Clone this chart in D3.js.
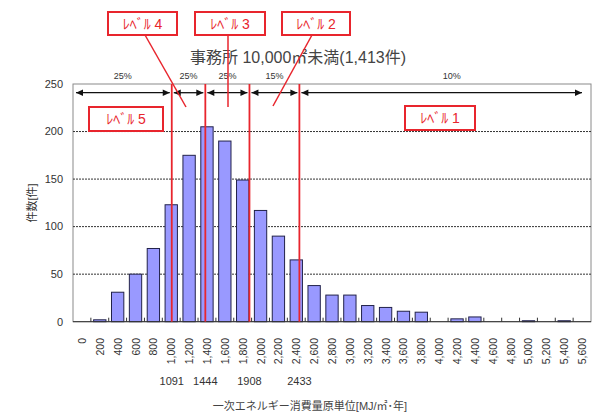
<!DOCTYPE html>
<html>
<head>
<meta charset="utf-8">
<script src="https://cdn.jsdelivr.net/npm/d3@7"></script>
<style>
  body { margin: 0; background: #fff; }
  text { font-family: "Liberation Sans", "Noto Sans CJK JP", sans-serif; }
</style>
</head>
<body>
<script>
// categories (bin lower bounds) and counts
const bins = [0, 200, 400, 600, 800, 1000, 1200, 1400, 1600, 1800, 2000, 2200, 2400, 2600,
  2800, 3000, 3200, 3400, 3600, 3800, 4000, 4200, 4400, 4600, 4800, 5000, 5200, 5400, 5600];
const counts = [0, 2, 31, 50, 77, 123, 175, 205, 190, 149, 117, 90, 65, 38,
  28, 28, 17, 15, 11, 10, 0, 3, 5, 0, 0, 1, 0, 1, 0];
const yTicks = [0, 50, 100, 150, 200, 250];
const thresholds = [1091, 1444, 1908, 2433];
const shares = ['25%', '25%', '25%', '15%', '10%'];
const levels = ['ﾚﾍﾞﾙ 5', 'ﾚﾍﾞﾙ 4', 'ﾚﾍﾞﾙ 3', 'ﾚﾍﾞﾙ 2', 'ﾚﾍﾞﾙ 1'];

const width = 597, height = 414;
const plot = { left: 73, right: 591, top: 84, bottom: 321.7 };
const red = '#e8252d';

const svg = d3.select('body').append('svg')
  .attr('width', width)
  .attr('height', height);

const x = d3.scaleBand()
  .domain(bins)
  .range([plot.left, plot.right])
  .paddingInner(0.31)
  .paddingOuter(0.155);

const y = d3.scaleLinear()
  .domain([0, 250])
  .range([plot.bottom, plot.top]);

// value -> x for the hand-placed threshold lines
const xv = d3.scaleLinear()
  .domain([0, 5800])
  .range([68, 619.6]);

// frame
svg.append('rect')
  .attr('x', plot.left).attr('y', plot.top)
  .attr('width', plot.right - plot.left).attr('height', plot.bottom - plot.top)
  .attr('fill', 'none').attr('stroke', '#8a8a8a').attr('stroke-width', 1);

// dotted gridlines
svg.append('g').selectAll('line')
  .data(yTicks.filter(d => d > 0 && d < 250))
  .enter().append('line')
  .attr('x1', plot.left).attr('x2', plot.right)
  .attr('y1', d => y(d)).attr('y2', d => y(d))
  .attr('stroke', '#333').attr('stroke-dasharray', '2,1').attr('stroke-width', 1);

// y tick labels
svg.append('g').selectAll('text')
  .data(yTicks)
  .enter().append('text')
  .attr('x', 63).attr('y', d => y(d)).attr('dy', '0.35em')
  .attr('text-anchor', 'end')
  .attr('font-size', 11).attr('fill', '#333')
  .text(d => d);

svg.append('text')
  .attr('transform', 'translate(36,203) rotate(-90)')
  .attr('text-anchor', 'middle')
  .attr('font-size', 11).attr('fill', '#333')
  .text('件数[件]');

// bars
svg.append('g').selectAll('rect')
  .data(bins.map((b, i) => ({ b, v: counts[i] })).filter(d => d.v > 0))
  .enter().append('rect')
  .attr('x', d => x(d.b))
  .attr('y', d => y(d.v))
  .attr('width', x.bandwidth())
  .attr('height', d => y(0) - y(d.v))
  .attr('fill', '#9999ff')
  .attr('stroke', '#22224a').attr('stroke-width', 1);

// x axis line and inner ticks at bin boundaries
svg.append('line')
  .attr('x1', plot.left).attr('x2', plot.right)
  .attr('y1', plot.bottom).attr('y2', plot.bottom)
  .attr('stroke', '#333');
svg.append('g').selectAll('line')
  .data(d3.range(1, bins.length))
  .enter().append('line')
  .attr('x1', i => plot.left + i * x.step()).attr('x2', i => plot.left + i * x.step())
  .attr('y1', plot.bottom).attr('y2', plot.bottom - 4)
  .attr('stroke', '#333');

// x tick labels, rotated
svg.append('g').selectAll('text')
  .data(bins)
  .enter().append('text')
  .attr('transform', d => `translate(${x(d) + x.bandwidth() / 2 + 4},338) rotate(-90)`)
  .attr('text-anchor', 'end')
  .attr('font-size', 10.5).attr('fill', '#333')
  .text(d => d3.format(',')(d));

// threshold values under axis
svg.append('g').selectAll('text')
  .data(thresholds)
  .enter().append('text')
  .attr('x', d => xv(d)).attr('y', 385)
  .attr('text-anchor', 'middle')
  .attr('font-size', 11).attr('fill', '#333')
  .text(d => d);

svg.append('text')
  .attr('x', 310).attr('y', 410)
  .attr('text-anchor', 'middle')
  .attr('font-size', 11).attr('fill', '#444')
  .text('一次エネルギー消費量原単位[MJ/㎡･年]');

// title
svg.append('text')
  .attr('x', 298).attr('y', 63)
  .attr('text-anchor', 'middle')
  .attr('font-size', 16).attr('fill', '#444')
  .text('事務所 10,000㎡未満(1,413件)');

// red threshold lines
svg.append('g').selectAll('line')
  .data(thresholds)
  .enter().append('line')
  .attr('x1', d => xv(d)).attr('x2', d => xv(d))
  .attr('y1', plot.top).attr('y2', plot.bottom)
  .attr('stroke', red).attr('stroke-width', 1.8);

// arrows for share segments
const edges = [76, ...thresholds.map(d => xv(d)), 582];
const segs = shares.map((s, i) => ({ s, x0: edges[i] + (i > 0 ? 2 : 0), x1: edges[i + 1] - (i < shares.length - 1 ? 2 : 0) }));
const arrowY = 92.7;
const ah = 7, aw = 3.2;
const arrows = svg.append('g');
segs.forEach(d => {
  arrows.append('line')
    .attr('x1', d.x0).attr('x2', d.x1)
    .attr('y1', arrowY).attr('y2', arrowY)
    .attr('stroke', '#111').attr('stroke-width', 1.3);
  arrows.append('path')
    .attr('d', `M${d.x0},${arrowY}L${d.x0 + ah},${arrowY - aw}L${d.x0 + ah},${arrowY + aw}Z`)
    .attr('fill', '#111');
  arrows.append('path')
    .attr('d', `M${d.x1},${arrowY}L${d.x1 - ah},${arrowY - aw}L${d.x1 - ah},${arrowY + aw}Z`)
    .attr('fill', '#111');
  arrows.append('text')
    .attr('x', (d.x0 + d.x1) / 2 + (d.s === '10%' ? 10 : 0)).attr('y', 79)
    .attr('text-anchor', 'middle')
    .attr('font-size', 9).attr('fill', '#333')
    .text(d.s);
});

// level callouts
const boxes = [
  { x: 89, y: 107, w: 74, h: 24 },
  { x: 108, y: 12, w: 69, h: 23 },
  { x: 195, y: 12, w: 70, h: 23 },
  { x: 282, y: 12, w: 68, h: 23 },
  { x: 405, y: 106, w: 70, h: 24 }
];
const leaders = [null, [145, 35, 186, 107], [228, 35, 228, 107], [312, 35, 273, 106], null];

leaders.forEach(l => {
  if (!l) return;
  svg.append('line')
    .attr('x1', l[0]).attr('y1', l[1]).attr('x2', l[2]).attr('y2', l[3])
    .attr('stroke', red).attr('stroke-width', 1.5);
});

const callout = svg.append('g').selectAll('g')
  .data(levels.map((t, i) => ({ t, ...boxes[i] })))
  .enter().append('g');
callout.append('rect')
  .attr('x', d => d.x).attr('y', d => d.y)
  .attr('width', d => d.w).attr('height', d => d.h)
  .attr('fill', '#fff').attr('stroke', red).attr('stroke-width', 2);
callout.append('text')
  .attr('x', d => d.x + d.w / 2).attr('y', d => d.y + d.h / 2).attr('dy', '0.36em')
  .attr('text-anchor', 'middle')
  .attr('font-size', 14).attr('fill', red)
  .text(d => d.t);
</script>
</body>
</html>
